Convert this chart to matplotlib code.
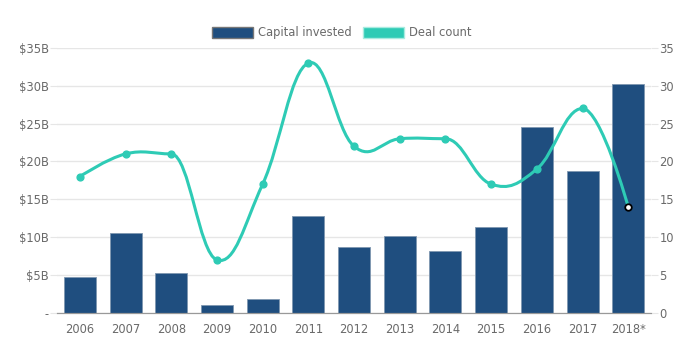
import numpy as np
import matplotlib.pyplot as plt
from matplotlib.path import Path
from matplotlib.patches import PathPatch, Patch

years = ["2006", "2007", "2008", "2009", "2010", "2011", "2012",
         "2013", "2014", "2015", "2016", "2017", "2018*"]
capital = [4.7, 10.5, 5.3, 1.1, 1.8, 12.8, 8.7, 10.1, 8.2, 11.4, 24.5, 18.7, 30.2]
deals = [18, 21, 21, 7, 17, 33, 22, 23, 23, 17, 19, 27, 14]

bar_color = "#1f4e7f"
line_color = "#2ecbb5"
text_color = "#6a6a6a"
grid_color = "#e6e6e6"

plt.rcParams['font.family'] = ['DejaVu Sans']


def spline_path(xs, ys, smoothing=1.5):
    # spline through the points, control points like highcharts
    n = len(xs)
    ctrl = []
    for i in range(n):
        if i == 0 or i == n - 1:
            ctrl.append((xs[i], ys[i], xs[i], ys[i]))
            continue
        d = smoothing + 1
        lx = (smoothing * xs[i] + xs[i - 1]) / d
        ly = (smoothing * ys[i] + ys[i - 1]) / d
        rx = (smoothing * xs[i] + xs[i + 1]) / d
        ry = (smoothing * ys[i] + ys[i + 1]) / d
        corr = (ry - ly) * (rx - xs[i]) / (rx - lx) + ys[i] - ry
        ly += corr
        ry += corr
        # no false extremes on the left side
        if ly > ys[i - 1] and ly > ys[i]:
            ly = max(ys[i - 1], ys[i]); ry = 2 * ys[i] - ly
        elif ly < ys[i - 1] and ly < ys[i]:
            ly = min(ys[i - 1], ys[i]); ry = 2 * ys[i] - ly
        ctrl.append((lx, ly, rx, ry))
    verts = [(xs[0], ys[0])]
    codes = [Path.MOVETO]
    for i in range(1, n):
        verts += [(ctrl[i - 1][2], ctrl[i - 1][3]), (ctrl[i][0], ctrl[i][1]), (xs[i], ys[i])]
        codes += [Path.CURVE4] * 3
    return Path(verts, codes)


fig = plt.figure(figsize=(6.9, 3.42), dpi=100)
ax = fig.add_axes([0.0826, 0.085, 0.861, 0.775])
ax2 = ax.twinx()

x = np.arange(len(years))
ax.bar(x, capital, width=0.7, color=bar_color, edgecolor="#7f97b0", linewidth=0.6, zorder=2)
ax.set_ylim(0, 35)
ax.set_xlim(-0.5, len(years) - 0.5)
ax.set_yticks(np.arange(0, 36, 5))
ax.set_yticklabels(["-"] + ["${}B".format(v) for v in range(5, 36, 5)])
ax.set_xticks(x)
ax.set_xticklabels(years)
ax.grid(axis="y", color=grid_color, linewidth=1, zorder=0)
ax.set_axisbelow(True)

ax2.set_ylim(0, 35)
ax2.set_yticks(np.arange(0, 36, 5))
ax2.add_patch(PathPatch(spline_path(x.astype(float), [float(d) for d in deals]),
                        facecolor="none", edgecolor=line_color, linewidth=2.2, zorder=3))
ax2.scatter(x[:-1], deals[:-1], s=24, color=line_color, zorder=4)
ax2.scatter(x[-1:], deals[-1:], s=22, color="white", edgecolor="black", linewidth=1.3, zorder=5)

for a in (ax, ax2):
    for s in ("top", "left", "right"):
        a.spines[s].set_visible(False)
    a.spines["bottom"].set_color("#999999")
    a.tick_params(axis="y", colors=text_color, labelsize=8.3, length=5, color=grid_color, pad=1)
    a.tick_params(axis="x", colors=text_color, labelsize=8.3, length=0, pad=7)

handles = [Patch(facecolor=bar_color, edgecolor="#777777", linewidth=1, label="Capital invested"),
           Patch(facecolor=line_color, edgecolor="#a8ebe0", linewidth=1, label="Deal count")]
fig.legend(handles=handles, loc="center", bbox_to_anchor=(0.495, 0.904), ncol=2, frameon=False,
           fontsize=8.3, handlelength=3.6, handleheight=1.2, columnspacing=1.0, handletextpad=0.4,
           labelcolor=text_color)

fig.savefig("out.png", dpi=100)
